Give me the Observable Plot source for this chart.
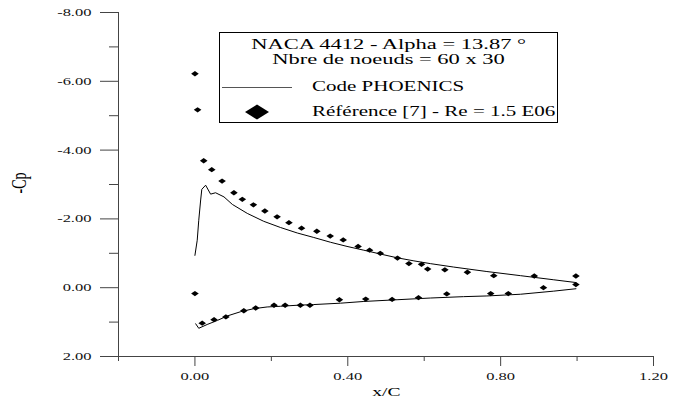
<!DOCTYPE html>
<html><head><meta charset="utf-8">
<script src="https://cdn.jsdelivr.net/npm/d3@7"></script>
<script src="https://cdn.jsdelivr.net/npm/@observablehq/plot@0.6"></script>
<style>
body{margin:0;background:#fff;}
#wrap{position:relative;width:676px;height:400px;font-family:"Liberation Serif","Times New Roman",serif;color:#000;}
.t{position:absolute;white-space:nowrap;line-height:1;}
.s{display:inline-block;transform:scaleX(1.5);}
</style></head><body><div id="wrap"></div>
<script>
// axes
const xDomain = [-0.2, 1.2];
const yDomain = [2, -8];
const xMajorTicks = [0, 0.4, 0.8, 1.2];
const xMinorTicks = [-0.2, 0.2, 0.6, 1.0];
const yMajorTicks = [-8, -6, -4, -2, 0, 2];
const yMinorTicks = [-7, -5, -3, -1, 1];

// texts
const titleLine1 = "NACA 4412 - Alpha = 13.87 °";
const titleLine2 = "Nbre de noeuds = 60 x 30";
const seriesLineName = "Code PHOENICS";
const seriesDotName = "Référence [7] - Re = 1.5 E06";
const xLabel = "x/C";
const yLabel = "-Cp";

// Code PHOENICS - upper surface
const lineUpperX = [0.000,0.006,0.010,0.015,0.018,0.028,0.041,0.054,0.076,0.098,0.137,0.180,0.224,0.268,0.311,0.355,0.398,0.442,0.485,0.529,0.573,0.616,0.677,0.764,0.852,0.939,0.997];
const lineUpperY = [-0.94,-1.38,-1.96,-2.55,-2.86,-2.98,-2.72,-2.76,-2.64,-2.42,-2.16,-1.93,-1.75,-1.59,-1.46,-1.32,-1.20,-1.09,-0.98,-0.87,-0.78,-0.70,-0.60,-0.47,-0.35,-0.23,-0.15];
// Code PHOENICS - lower surface
const lineLowerX = [0.002,0.010,0.032,0.059,0.085,0.119,0.154,0.189,0.224,0.268,0.311,0.381,0.442,0.529,0.616,0.703,0.764,0.852,0.939,0.997];
const lineLowerY = [1.05,1.18,1.07,0.95,0.82,0.70,0.61,0.56,0.54,0.51,0.49,0.45,0.40,0.35,0.30,0.26,0.24,0.19,0.10,0.03];

// Reference [7] - upper surface
const refUpperX = [0.000,0.007,0.023,0.044,0.071,0.102,0.124,0.153,0.183,0.215,0.246,0.279,0.319,0.354,0.388,0.427,0.457,0.485,0.530,0.560,0.593,0.609,0.654,0.713,0.782,0.888,0.997];
const refUpperY = [-6.22,-5.17,-3.69,-3.43,-3.10,-2.76,-2.57,-2.41,-2.23,-2.06,-1.89,-1.73,-1.64,-1.50,-1.39,-1.20,-1.09,-1.00,-0.86,-0.70,-0.68,-0.54,-0.52,-0.45,-0.35,-0.34,-0.34];
// Reference [7] - lower surface
const refLowerX = [0.000,0.019,0.050,0.081,0.128,0.159,0.207,0.236,0.276,0.301,0.378,0.447,0.516,0.585,0.659,0.774,0.820,0.912,0.997];
const refLowerY = [0.17,1.03,0.93,0.85,0.67,0.59,0.51,0.51,0.51,0.51,0.35,0.33,0.34,0.29,0.18,0.17,0.17,0.00,-0.09];

const toRows = (X, Y) => X.map((x, i) => ({x, y: Y[i]}));
const upperLine = toRows(lineUpperX, lineUpperY);
const lowerLine = toRows(lineLowerX, lineLowerY);
const refPoints = toRows(refUpperX, refUpperY).concat(toRows(refLowerX, refLowerY));

const wideDiamond = {
  draw(ctx, size) {
    const r = Math.sqrt(size / Math.PI);
    const w = r, h = r * 0.7;
    ctx.moveTo(-w, 0); ctx.lineTo(0, -h); ctx.lineTo(w, 0); ctx.lineTo(0, h); ctx.closePath();
  }
};
const fmt = d => d.toFixed(2);
const axisColor = "#444";

const plot = Plot.plot({
  width: 676, height: 400,
  marginLeft: 118, marginRight: 23, marginTop: 12, marginBottom: 44,
  style: {fontFamily: '"Liberation Serif", "Times New Roman", serif', fontSize: "11px", color: "#111", background: "#fff"},
  x: {domain: xDomain},
  y: {domain: yDomain},
  marks: [
    Plot.ruleX([xDomain[0]], {stroke: axisColor}),
    Plot.ruleY([yDomain[0]], {stroke: axisColor}),
    Plot.axisY({ticks: yMajorTicks, tickSize: 18, tickPadding: 9, tickFormat: fmt, label: null, stroke: axisColor}),
    Plot.axisY({ticks: yMinorTicks, tickSize: 9, tickFormat: () => "", label: null, stroke: axisColor}),
    Plot.axisX({ticks: xMajorTicks, tickSize: 10, tickPadding: 6, tickFormat: fmt, label: null, stroke: axisColor}),
    Plot.axisX({ticks: xMinorTicks, tickSize: 5, tickFormat: () => "", label: null, stroke: axisColor}),
    Plot.line(upperLine, {x: "x", y: "y", stroke: "#000", strokeWidth: 1}),
    Plot.line(lowerLine, {x: "x", y: "y", stroke: "#000", strokeWidth: 1}),
    Plot.dot(refPoints, {x: "x", y: "y", r: 3.8, symbol: wideDiamond, fill: "#000", stroke: "none"})
  ]
});
// stretch tick labels horizontally like the reference
plot.querySelectorAll("text").forEach(t => {
  const tr = t.getAttribute("transform") || "";
  t.setAttribute("transform", tr + " scale(1.5,1)");
});

const wrap = document.getElementById("wrap");
wrap.appendChild(plot);
plot.style.position = "absolute"; plot.style.left = "0"; plot.style.top = "0";

function add(html, css) {
  const d = document.createElement("div");
  d.className = "t";
  d.style.cssText += css;
  d.innerHTML = html;
  wrap.appendChild(d);
  return d;
}
// legend box
add("", "left:219px;top:32px;width:337px;height:89px;border:1px solid #000;background:#fff;");
add(`<span class="s" style="transform-origin:center">${titleLine1}</span>`, "left:219px;width:339px;text-align:center;top:37px;font-size:15px;");
add(`<span class="s" style="transform-origin:center">${titleLine2}</span>`, "left:219px;width:339px;text-align:center;top:52px;font-size:15px;");
add(`<svg width="72" height="3" style="display:block"><line x1="0" y1="1.5" x2="70" y2="1.5" stroke="#555" stroke-width="1.2"/></svg>`, "left:222px;top:86px;");
add(`<span class="s" style="transform-origin:left center">${seriesLineName}</span>`, "left:312px;top:80px;font-size:14px;");
add(`<svg width="24" height="16" style="display:block"><polygon points="0,8 12,0.5 24,8 12,15.5" fill="#000"/></svg>`, "left:245px;top:104px;");
add(`<span class="s" style="transform-origin:left center">${seriesDotName}</span>`, "left:312px;top:105px;font-size:14px;");
// axis labels
add(`<span class="s" style="transform-origin:center">${xLabel}</span>`, "left:336px;width:100px;text-align:center;top:385px;font-size:13px;");
add(yLabel, "left:0px;width:40px;text-align:center;top:176px;font-size:14px;transform:rotate(-90deg) scaleY(1.5);");
</script></body></html>
